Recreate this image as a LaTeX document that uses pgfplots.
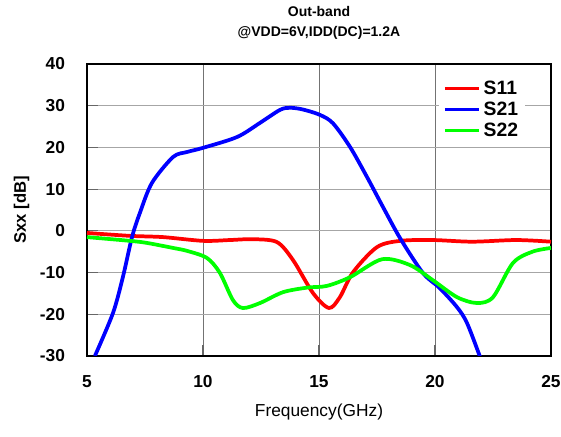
\documentclass[border=0pt]{standalone}
\usepackage{pgfplots}
\pgfplotsset{compat=1.18}
\usepackage{fontspec}
\setmainfont{Liberation Sans}
\begin{document}
\begin{tikzpicture}
\begin{axis}[
    name=ax,
    scale only axis,
    width=348pt, height=219pt,
    xmin=5, xmax=25, ymin=-30, ymax=40,
    xtick={5,10,15,20,25}, ytick={-30,-20,...,40},
    xmajorgrids, ymajorgrids,
    major x grid style={black!55, line width=0.6pt},
    major y grid style={black!35, line width=0.9pt},
    axis line style={black, line width=0.9pt},
    tick style={black!60, line width=0.8pt},
    major tick length=8pt,
    tick align=inside,
    xtick pos=bottom, ytick pos=left,
    /pgf/number format/assume math mode=true,
    ticklabel style={font=\fontsize{13}{15}\selectfont\bfseries},
    xticklabel style={yshift=-11pt},
    yticklabel style={xshift=-13pt},
    title={Out-band\\@VDD=6V,IDD(DC)=1.2A},
    title style={align=center, font=\fontsize{10.5}{15}\selectfont\bfseries,
        at={(axis description cs:0.5,1)}, anchor=center, yshift=25pt},
    ylabel={Sxx [dB]},
    ylabel style={font=\fontsize{12.5}{14}\selectfont\bfseries,
        at={([xshift=-49pt]axis description cs:0,0.5)}, anchor=center},
    xlabel={Frequency(GHz)},
    xlabel style={font=\fontsize{13}{15}\selectfont,
        at={([yshift=-42pt]axis description cs:0.5,0)}, anchor=center},
    legend style={at={(0.944,0.966)}, anchor=north east, draw=none, fill=white,
        font=\fontsize{14.5}{15}\selectfont\bfseries, row sep=0pt,
        legend cell align=left, inner sep=3pt},
    legend image code/.code={\draw[#1, line width=2.3pt] (0pt,0pt) -- (26pt,0pt);},
    every axis plot/.append style={line width=2.8pt, smooth, tension=0.5},
]
% S11
\addplot[red] coordinates {
(5,-0.5) (6.85,-1.2) (8.28,-1.5) (10,-2.4) (11.16,-2.2) (12.16,-2.0) (13.19,-2.7)
(13.88,-7) (14.74,-14.9) (15.43,-18.5) (15.9,-15.9) (16.47,-9.9) (17.5,-3.9)
(18.5,-2.4) (19.9,-2.2) (21.6,-2.6) (23.5,-2.2) (25,-2.6)};
% S21
\addplot[blue] coordinates {
(5.34,-30) (6.12,-19.7) (6.55,-11) (6.94,-1.5) (7.28,4.3) (7.8,11.5) (8.71,17.7)
(9.31,18.9) (10,19.9) (11.47,22.5) (12.46,25.9) (13.32,29.0) (13.75,29.5)
(14.3,29.1) (15.04,27.8) (15.6,25.8) (16.34,20.1) (17.07,12.9) (17.76,5.7)
(18.5,-1.8) (19.48,-10.1) (20.2,-13.7) (20.95,-18.3) (21.38,-22.1) (21.94,-30.2)};
% S22
\addplot[green] coordinates {
(5,-1.5) (6.85,-2.4) (7.59,-2.9) (8.71,-4.1) (9.31,-4.8) (10.17,-6.5) (10.73,-10.1)
(11.29,-16.6) (11.72,-18.5) (12.46,-17.3) (13.45,-14.7) (14.5,-13.6) (15.34,-13.2)
(16.34,-11.1) (17.72,-6.8) (18.92,-8.2) (19.9,-11.8) (20.95,-15.9) (21.81,-17.3)
(22.5,-15.9) (23.36,-7.7) (24.2,-5) (25,-4.1)};
\legend{S11, S21, S22}
\end{axis}
\pgfresetboundingbox
\path ([xshift=-65.25pt,yshift=-60.75pt]ax.south west) rectangle ([xshift=7.5pt,yshift=48pt]ax.north east);
\end{tikzpicture}
\end{document}
